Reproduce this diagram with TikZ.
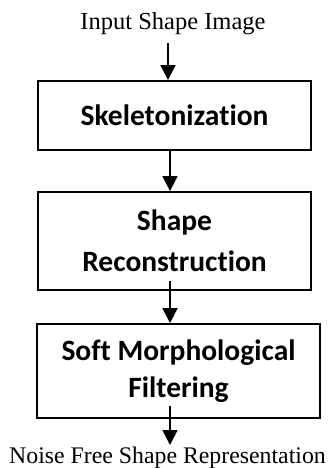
\documentclass[tikz,border=0pt]{standalone}
\usepackage{fontspec}
\setmainfont{Liberation Serif}
\newfontfamily\boxfont[Ligatures=NoCommon]{Carlito}
\usetikzlibrary{arrows.meta,calc}
\begin{document}
\begin{tikzpicture}[x=1pt,y=1pt,
  stepbox/.style={draw,line width=1.8pt,minimum width=273pt,align=center,font=\boxfont\bfseries\fontsize{29.5}{41}\selectfont,inner sep=0pt},
  lbl/.style={font=\fontsize{24.5}{26}\selectfont,inner sep=0pt},
  arr/.style={line width=1.8pt,-{Triangle[length=15pt,width=15pt]}}]
\useasboundingbox (0,0) rectangle (335,468);
\node[lbl] (in) at (173,444) {Input Shape Image};
\node[stepbox,minimum height=69pt] (b1) at (174.5,352.5) {Skeletonization};
\node[stepbox,minimum height=98pt] (b2) at (174.5,227) {Shape\\Reconstruction};
\node[stepbox,minimum width=283pt,minimum height=94pt,font=\boxfont\bfseries\fontsize{29.5}{37}\selectfont] (b3) at (178.5,97) {Soft Morphological\\Filtering};
\node[lbl,font=\fontsize{23.8}{26}\selectfont] (out) at (167.5,10) {Noise Free Shape Representation};
\coordinate (ax1) at (168,0);
\coordinate (ax) at (170,0);
\draw[arr] ($(in.south -| ax1)+(0,-8)$) -- (b1.north -| ax1);
\draw[arr] (b1.south -| ax) -- (b2.north -| ax);
\draw[arr] ($(b2.south -| ax)+(0,10)$) -- (b3.north -| ax);
\draw[arr] ($(b3.south -| ax)+(0,13)$) -- ($(out.north -| ax)+(0,2)$);
\end{tikzpicture}
\end{document}
